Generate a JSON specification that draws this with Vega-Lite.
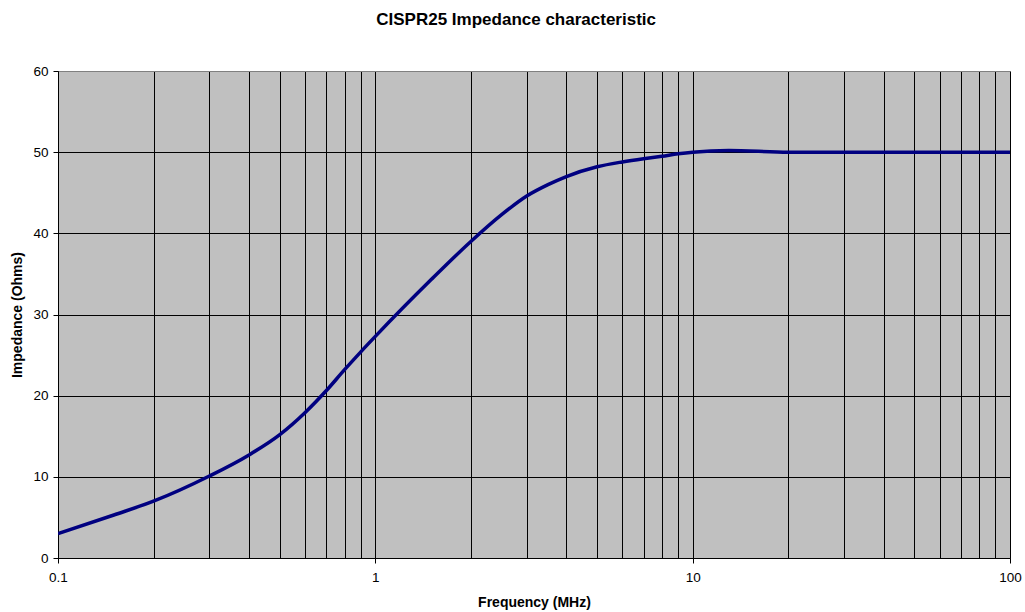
{
  "$schema": "https://vega.github.io/schema/vega-lite/v6.json",
  "width": 952,
  "height": 487,
  "autosize": "none",
  "padding": {"left": 58, "top": 71, "right": 15, "bottom": 54},
  "background": "white",
  "title": {
    "text": "CISPR25 Impedance characteristic",
    "font": "Liberation Sans",
    "fontSize": 17,
    "fontWeight": "bold",
    "color": "black",
    "frame": "bounds",
    "anchor": "middle",
    "offset": 35
  },
  "config": {
    "font": "Liberation Sans",
    "view": {"fill": "#C0C0C0", "stroke": "#808080", "strokeWidth": 1}
  },
  "data": {
    "values": [
      {"f": 0.1, "z": 3.0},
      {"f": 0.15, "z": 5.3},
      {"f": 0.2, "z": 7.0},
      {"f": 0.3, "z": 10.1},
      {"f": 0.4, "z": 12.7},
      {"f": 0.5, "z": 15.2},
      {"f": 0.6, "z": 17.9},
      {"f": 0.7, "z": 20.6},
      {"f": 0.8, "z": 23.2},
      {"f": 0.9, "z": 25.4},
      {"f": 1, "z": 27.3},
      {"f": 1.5, "z": 34.3},
      {"f": 2, "z": 39.0},
      {"f": 2.5, "z": 42.3},
      {"f": 3, "z": 44.6},
      {"f": 3.5, "z": 46.0},
      {"f": 4, "z": 47.0},
      {"f": 5, "z": 48.2},
      {"f": 6, "z": 48.8},
      {"f": 7, "z": 49.2},
      {"f": 8, "z": 49.5},
      {"f": 9, "z": 49.8},
      {"f": 10, "z": 50.0},
      {"f": 13, "z": 50.2},
      {"f": 20, "z": 50.0},
      {"f": 30, "z": 50.0},
      {"f": 50, "z": 50.0},
      {"f": 100, "z": 50.0}
    ]
  },
  "mark": {"type": "line", "color": "#000080", "strokeWidth": 3.5, "interpolate": "monotone", "clip": true},
  "encoding": {
    "x": {
      "field": "f",
      "type": "quantitative",
      "scale": {"type": "log", "domain": [0.1, 100], "nice": false},
      "axis": {
        "title": "Frequency (MHz)",
        "values": [0.1, 0.2, 0.3, 0.4, 0.5, 0.6, 0.7, 0.8, 0.9, 1, 2, 3, 4, 5, 6, 7, 8, 9, 10, 20, 30, 40, 50, 60, 70, 80, 90, 100],
        "grid": true,
        "gridColor": "black",
        "gridOpacity": 1,
        "gridWidth": 1,
        "domainColor": "black",
        "tickColor": "black",
        "tickSize": 5,
        "tickOpacity": {"condition": {"test": "abs(log(datum.value)/LN10 - round(log(datum.value)/LN10)) < 0.000001", "value": 1}, "value": 0},
        "labelExpr": "abs(log(datum.value)/LN10 - round(log(datum.value)/LN10)) < 0.000001 ? format(datum.value, '~g') : ''",
        "labelFlush": false,
        "labelOverlap": false,
        "labelFontSize": 13.5,
        "labelColor": "black",
        "labelPadding": 7,
        "titleFontSize": 14,
        "titleFontWeight": "bold",
        "titleColor": "black",
        "titlePadding": 12
      }
    },
    "y": {
      "field": "z",
      "type": "quantitative",
      "scale": {"domain": [0, 60], "nice": false},
      "axis": {
        "title": "Impedance (Ohms)",
        "values": [0, 10, 20, 30, 40, 50, 60],
        "grid": true,
        "gridColor": {"condition": {"test": "datum.value == 60", "value": "#808080"}, "value": "black"},
        "gridOpacity": 1,
        "gridWidth": 1,
        "domainColor": "black",
        "tickColor": "black",
        "tickSize": 5,
        "labelFontSize": 13.5,
        "labelColor": "black",
        "labelPadding": 5,
        "titleFontSize": 14,
        "titleFontWeight": "bold",
        "titleColor": "black",
        "titlePadding": 8
      }
    }
  }
}
